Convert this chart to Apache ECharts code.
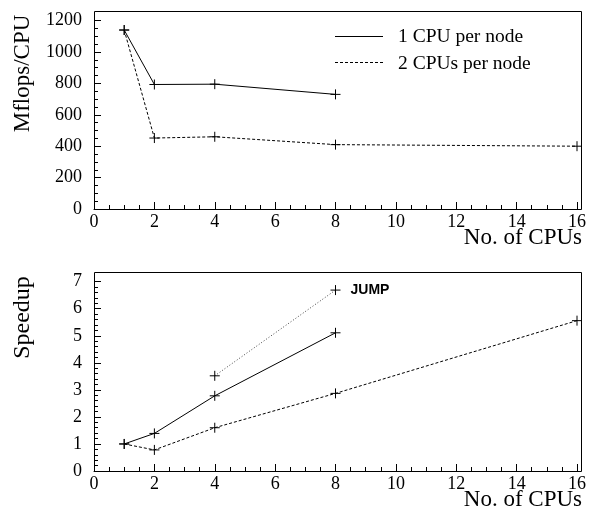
<!DOCTYPE html>
<html>
<head>
<meta charset="utf-8">
<script src="https://cdn.jsdelivr.net/npm/echarts@6/dist/echarts.min.js"></script>
<style>
  html, body { margin: 0; padding: 0; background: #fff; }
  #main { width: 593px; height: 514px; }
</style>
</head>
<body>
<div id="main"></div>
<script>
// data
const cpus1 = [1, 2, 4, 8];
const cpus2 = [1, 2, 4, 8, 16];
const mflops1 = [1140, 793, 795, 730];
const mflops2 = [1140, 452, 460, 410, 400];
const speedup1 = [1, 1.39, 2.78, 5.11];
const speedup2 = [1, 0.78, 1.6, 2.87, 5.56];
const jumpCpus = [4, 8];
const jumpSpeedup = [3.52, 6.69];
const xTicks = [0, 2, 4, 6, 8, 10, 12, 14, 16];

const serif = '"Liberation Serif", "DejaVu Serif", serif';
const plus = 'path://M0,5L10,5M5,0L5,10';

function pairs(xs, ys) {
  return xs.map(function (x, i) { return [x, ys[i]]; });
}

function xAxisFor(idx) {
  return {
    type: 'value', gridIndex: idx,
    min: xTicks[0], max: xTicks[xTicks.length - 1], interval: 2,
    axisLine: { show: true, onZero: false, lineStyle: { color: '#000', width: 1 } },
    axisTick: { show: true, inside: true, length: 7, lineStyle: { color: '#000', width: 1 } },
    minorTick: { show: true, splitNumber: 4, length: 4, lineStyle: { color: '#000', width: 1 } },
    splitLine: { show: false },
    axisLabel: { color: '#000', fontFamily: serif, fontSize: 18, margin: 4,
                 formatter: function (v) { return String(v); } }
  };
}

function yAxisFor(idx, max, interval, minor) {
  return {
    type: 'value', gridIndex: idx, min: 0, max: max, interval: interval,
    axisLine: { show: true, lineStyle: { color: '#000', width: 1 } },
    axisTick: { show: true, inside: true, length: 7, lineStyle: { color: '#000', width: 1 } },
    minorTick: { show: true, splitNumber: minor, length: 4, lineStyle: { color: '#000', width: 1 } },
    splitLine: { show: false },
    axisLabel: { color: '#000', fontFamily: serif, fontSize: 18, margin: 12,
                 formatter: function (v) { return String(v); } }
  };
}

function lineSeries(name, idx, data, type) {
  return {
    name: name, type: 'line', xAxisIndex: idx, yAxisIndex: idx,
    data: data,
    symbol: plus, symbolSize: 10,
    itemStyle: { color: '#000', borderColor: '#000', borderWidth: 1 },
    lineStyle: { color: '#000', width: 1, type: type },
    emphasis: { disabled: true }
  };
}

// frame box drawn as an open polyline so nothing gets filled
function frame(x0, y0, x1, y1) {
  return {
    type: 'polyline', silent: true, z: 10,
    shape: { points: [[x0, y0], [x1, y0], [x1, y1], [x0, y1], [x0, y0]] },
    style: { stroke: '#000', lineWidth: 1, fill: null }
  };
}

let myChart = echarts.init(document.getElementById('main'));

let jump = lineSeries('JUMP', 1, pairs(jumpCpus, jumpSpeedup), [1, 2]);
jump.lineStyle.color = '#444';
jump.endLabel = {
  show: true, formatter: 'JUMP', distance: 15,
  color: '#000', fontFamily: '"Liberation Sans", Arial, sans-serif',
  fontWeight: 'bold', fontSize: 14
};

let option = {
  animation: false,
  grid: [
    { left: 94, top: 20.6, width: 483, height: 188.4, show: false },
    { left: 94, top: 281.7, width: 483, height: 189.3, show: false }
  ],
  xAxis: [xAxisFor(0), xAxisFor(1)],
  yAxis: [yAxisFor(0, 1200, 200, 4), yAxisFor(1, 7, 1, 5)],
  series: [
    lineSeries('1 CPU per node', 0, pairs(cpus1, mflops1), 'solid'),
    lineSeries('2 CPUs per node', 0, pairs(cpus2, mflops2), [3, 2]),
    lineSeries('1 CPU per node', 1, pairs(cpus1, speedup1), 'solid'),
    lineSeries('2 CPUs per node', 1, pairs(cpus2, speedup2), [3, 2]),
    jump
  ],
  graphic: [
    frame(94.5, 11.5, 581.5, 209.5),
    frame(94.5, 272.5, 581.5, 471.5),
    // legend
    { type: 'line', shape: { x1: 335, y1: 36.5, x2: 383, y2: 36.5 },
      style: { stroke: '#000', lineWidth: 1 } },
    { type: 'line', shape: { x1: 335, y1: 62.5, x2: 383, y2: 62.5 },
      style: { stroke: '#000', lineWidth: 1, lineDash: [3, 2] } },
    { type: 'text', x: 398, y: 37,
      style: { text: '1 CPU per node', font: '19.5px ' + serif, fill: '#000',
               textAlign: 'left', textVerticalAlign: 'middle', align: 'left', verticalAlign: 'middle' } },
    { type: 'text', x: 398, y: 64,
      style: { text: '2 CPUs per node', font: '19.5px ' + serif, fill: '#000',
               textAlign: 'left', textVerticalAlign: 'middle', align: 'left', verticalAlign: 'middle' } },
    // axis titles
    { type: 'text', x: 582, y: 249,
      style: { text: 'No. of CPUs', font: '23px ' + serif, fill: '#000',
               textAlign: 'right', textVerticalAlign: 'bottom', align: 'right', verticalAlign: 'bottom' } },
    { type: 'text', x: 582, y: 511,
      style: { text: 'No. of CPUs', font: '23px ' + serif, fill: '#000',
               textAlign: 'right', textVerticalAlign: 'bottom', align: 'right', verticalAlign: 'bottom' } },
    { type: 'text', x: 23, y: 73.5, rotation: Math.PI / 2,
      style: { text: 'Mflops/CPU', font: '23px ' + serif, fill: '#000',
               textAlign: 'center', textVerticalAlign: 'middle', align: 'center', verticalAlign: 'middle' } },
    { type: 'text', x: 23, y: 317.5, rotation: Math.PI / 2,
      style: { text: 'Speedup', font: '24px ' + serif, fill: '#000',
               textAlign: 'center', textVerticalAlign: 'middle', align: 'center', verticalAlign: 'middle' } }
  ]
};

myChart.setOption(option);
</script>
</body>
</html>
